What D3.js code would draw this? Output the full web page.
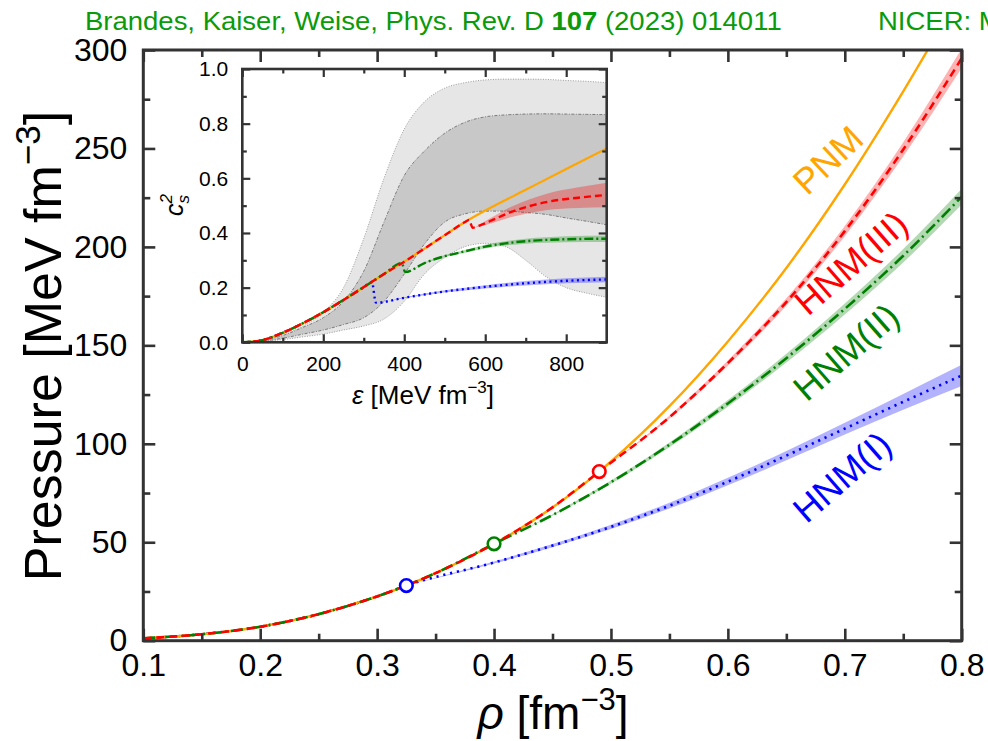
<!DOCTYPE html>
<html>
<head>
<meta charset="utf-8">
<script src="https://cdn.jsdelivr.net/npm/d3@7"></script>
<style>
  body { margin: 0; background: #fff; }
  svg { display: block; }
  text { font-family: "Liberation Sans", Arial, Helvetica, sans-serif; }
</style>
</head>
<body>
<svg id="chart" width="988" height="741"></svg>
<script>
// ---------- main panel: pressure vs. baryon density ----------
const rhoTicks = [0.1, 0.2, 0.3, 0.4, 0.5, 0.6, 0.7, 0.8];
const rhoMinor = [0.15, 0.25, 0.35, 0.45, 0.55, 0.65, 0.75];
const pTicks = [0, 50, 100, 150, 200, 250, 300];
const pMinor = [25, 75, 125, 175, 225, 275];

// pure neutron matter (PNM)
const pnmRho = [0.10, 0.15, 0.20, 0.25, 0.30, 0.325, 0.35, 0.40, 0.45, 0.49, 0.50, 0.55, 0.60, 0.65, 0.70, 0.75, 0.80];
const pnmP   = [1.2, 3.3, 7.1, 13.5, 22.5, 28.0, 34.3, 49.2, 67.7, 85.9, 91.0, 119.1, 152.0, 189.3, 231.7, 279.0, 330.0];

// hyperon-nuclear matter, three scenarios (from the hyperon onset on)
const hnm1Rho = [0.325, 0.40, 0.45, 0.50, 0.55, 0.60, 0.65, 0.70, 0.75, 0.80];
const hnm1P   = [28.0, 39.7, 48.3, 57.8, 68.6, 80.8, 94.0, 107.7, 121.3, 134.7];
const hnm1Err = [0, 0.5, 0.8, 1.1, 1.5, 1.9, 2.4, 3.0, 4.0, 5.4];

const hnm2Rho = [0.40, 0.45, 0.50, 0.55, 0.60, 0.65, 0.70, 0.75, 0.80];
const hnm2P   = [49.2, 63.8, 80.5, 99.5, 120.5, 143.5, 168.5, 195.5, 225.5];
const hnm2Err = [0, 0.4, 0.8, 1.2, 1.7, 2.2, 2.8, 3.4, 4.0];

const hnm3Rho = [0.49, 0.55, 0.60, 0.65, 0.70, 0.75, 0.80];
const hnm3P   = [85.9, 113.5, 141.0, 172.0, 208.0, 249.5, 295.8];
const hnm3Err = [0, 0.8, 1.3, 1.9, 2.6, 3.6, 5.0];

// hyperon onset densities
const onsetRho = [0.325, 0.40, 0.49];
const onsetP   = [28.0, 49.2, 85.9];

// ---------- inset: squared sound speed vs. energy density ----------
const epsTicks = [0, 200, 400, 600, 800];
const epsMinor = [100, 300, 500, 700];
const csTicks = [0.0, 0.2, 0.4, 0.6, 0.8, 1.0];
const csMinor = [0.1, 0.3, 0.5, 0.7, 0.9];

const pnmEps = [0, 50, 100, 150, 200, 250, 300, 350, 400, 450, 500, 550, 600, 700, 800, 900];
const pnmCs  = [0, 0.008, 0.035, 0.07, 0.11, 0.155, 0.202, 0.25, 0.295, 0.343, 0.392, 0.44, 0.482, 0.558, 0.634, 0.709];

const hnm1Eps = [320, 330, 400, 500, 600, 700, 800, 900];
const hnm1Cs  = [0.221, 0.145, 0.163, 0.186, 0.203, 0.216, 0.225, 0.230];
const hnm1CsErr = [0, 0, 0.002, 0.004, 0.006, 0.008, 0.009, 0.010];

const hnm2Eps = [394, 402, 450, 500, 550, 600, 650, 700, 800, 900];
const hnm2Cs  = [0.290, 0.257, 0.290, 0.315, 0.333, 0.350, 0.362, 0.370, 0.377, 0.379];
const hnm2CsErr = [0, 0, 0.002, 0.004, 0.005, 0.007, 0.008, 0.009, 0.011, 0.012];

const hnm3Eps = [560, 569, 590, 670, 750, 830, 900];
const hnm3Cs  = [0.448, 0.419, 0.430, 0.480, 0.513, 0.529, 0.539];
const hnm3CsErr = [0, 0, 0.005, 0.020, 0.030, 0.038, 0.045];

// neutron-star inference bands (68% dark, 95% light)
const bandEps = [0, 50, 100, 150, 200, 250, 300, 350, 400, 450, 500, 550, 600, 650, 700, 750, 800, 850, 900];
const band95Hi = [0, 0.01, 0.03, 0.06, 0.11, 0.20, 0.38, 0.60, 0.78, 0.88, 0.93, 0.95, 0.96, 0.963, 0.963, 0.962, 0.958, 0.955, 0.95];
const band95Lo = [0, 0.003, 0.01, 0.02, 0.03, 0.045, 0.06, 0.085, 0.15, 0.25, 0.31, 0.35, 0.362, 0.35, 0.30, 0.24, 0.20, 0.18, 0.165];
const band68Hi = [0, 0.008, 0.025, 0.055, 0.09, 0.15, 0.26, 0.44, 0.61, 0.70, 0.765, 0.805, 0.825, 0.832, 0.835, 0.836, 0.835, 0.834, 0.833];
const band68Lo = [0, 0.004, 0.015, 0.03, 0.045, 0.065, 0.09, 0.15, 0.25, 0.36, 0.44, 0.47, 0.48, 0.48, 0.475, 0.468, 0.455, 0.443, 0.43];

const seriesNames = ["PNM", "HNM(III)", "HNM(II)", "HNM(I)"];

// ---------- styling ----------
const C = { pnm: "#FFA500", h3: "#FF0000", h2: "#008000", h1: "#0000FF", frame: "#333333", title: "#0A9A0A" };
const dash = { h3: "8,5", h2: "12,4,2,4", h1: "2.2,4.8" };

const svg = d3.select("#chart");
const x = d3.scaleLinear().domain([0.1, 0.8]).range([143.3, 961.7]);
const y = d3.scaleLinear().domain([0, 300]).range([640.7, 50]);

const zip = (xs, ys) => xs.map((v, i) => [v, ys[i]]);
const zip3 = (xs, ys, es) => xs.map((v, i) => [v, ys[i], es[i]]);

// header line (slightly widened glyphs); the second entry runs past the right edge
const head = svg.append("text").attr("transform", "translate(85,29.5) scale(1.1,1)")
  .attr("font-size", 25).attr("fill", C.title);
head.append("tspan").text("Brandes, Kaiser, Weise, Phys. Rev. D ");
head.append("tspan").attr("font-weight", "bold").text("107");
head.append("tspan").text(" (2023) 014011");
svg.append("text").attr("transform", "translate(878,29.5) scale(1.1,1)").attr("font-size", 25)
  .attr("fill", C.title).text("NICER: M");

// clip for main plot
const defs = svg.append("defs");
defs.append("clipPath").attr("id", "mainClip").append("rect")
  .attr("x", 143.3).attr("y", 50).attr("width", 961.7 - 143.3).attr("height", 640.7 - 50);

const plot = svg.append("g").attr("clip-path", "url(#mainClip)");

function pathOnPnm(rhos, Ps) {
  // PNM branch up to the onset, then the hyperonic branch
  const start = rhos[0];
  const pts = zip(pnmRho, pnmP).filter(d => d[0] < start - 1e-9);
  return pts.concat(zip(rhos, Ps));
}

const lineMain = d3.line().x(d => x(d[0])).y(d => y(d[1])).curve(d3.curveMonotoneX);
const areaMain = d3.area().x(d => x(d[0])).y0(d => y(d[1] - d[2])).y1(d => y(d[1] + d[2])).curve(d3.curveMonotoneX);

// uncertainty bands
plot.append("path").datum(zip3(hnm1Rho, hnm1P, hnm1Err)).attr("d", areaMain).attr("fill", C.h1).attr("fill-opacity", 0.3);
plot.append("path").datum(zip3(hnm2Rho, hnm2P, hnm2Err)).attr("d", areaMain).attr("fill", C.h2).attr("fill-opacity", 0.3);
plot.append("path").datum(zip3(hnm3Rho, hnm3P, hnm3Err)).attr("d", areaMain).attr("fill", C.h3).attr("fill-opacity", 0.3);

// curves
plot.append("path").datum(pathOnPnm(hnm1Rho, hnm1P)).attr("d", lineMain).attr("fill", "none")
  .attr("stroke", C.h1).attr("stroke-width", 2.6).attr("stroke-dasharray", dash.h1).attr("stroke-linecap", "butt");
plot.append("path").datum(zip(pnmRho, pnmP)).attr("d", lineMain).attr("fill", "none")
  .attr("stroke", C.pnm).attr("stroke-width", 2.4);
plot.append("path").datum(pathOnPnm(hnm2Rho, hnm2P)).attr("d", lineMain).attr("fill", "none")
  .attr("stroke", C.h2).attr("stroke-width", 2.6).attr("stroke-dasharray", dash.h2);
plot.append("path").datum(pathOnPnm(hnm3Rho, hnm3P)).attr("d", lineMain).attr("fill", "none")
  .attr("stroke", C.h3).attr("stroke-width", 2.6).attr("stroke-dasharray", dash.h3);

// onset markers
const onsetColors = [C.h1, C.h2, C.h3];
svg.append("g").selectAll("circle").data(zip(onsetRho, onsetP)).join("circle")
  .attr("cx", d => x(d[0])).attr("cy", d => y(d[1])).attr("r", 6.3)
  .attr("fill", "#fff").attr("stroke", (d, i) => onsetColors[i]).attr("stroke-width", 2.6);

// curve labels
const labels = [
  { t: seriesNames[0], c: C.pnm, x: 828, y: 160, a: -43 },
  { t: seriesNames[1], c: C.h3, x: 851, y: 263, a: -41 },
  { t: seriesNames[2], c: C.h2, x: 846, y: 352, a: -41 },
  { t: seriesNames[3], c: C.h1, x: 842, y: 477, a: -41 }
];
svg.append("g").selectAll("text").data(labels).join("text")
  .attr("transform", d => `translate(${d.x},${d.y}) rotate(${d.a})`)
  .attr("text-anchor", "middle").attr("dominant-baseline", "central")
  .attr("font-size", 36).attr("fill", d => d.c).text(d => d.t);

// ---------- axes with inward ticks on all four sides ----------
function inwardAxes(g, xs, ys, xMaj, xMin, yMaj, yMin, majLen, minLen, fmtX, fmtY, fs, padX, padY, sw) {
  const [x0, x1] = xs.range(), [y0, y1] = ys.range();
  g.append("g").attr("transform", `translate(0,${y0})`)
    .call(d3.axisBottom(xs).tickValues(xMaj).tickSize(-majLen).tickPadding(padX).tickFormat(fmtX));
  g.append("g").attr("transform", `translate(0,${y0})`)
    .call(d3.axisBottom(xs).tickValues(xMin).tickSize(-minLen).tickFormat(""));
  g.append("g").attr("transform", `translate(0,${y1})`)
    .call(d3.axisTop(xs).tickValues(xMaj).tickSize(-majLen).tickFormat(""));
  g.append("g").attr("transform", `translate(0,${y1})`)
    .call(d3.axisTop(xs).tickValues(xMin).tickSize(-minLen).tickFormat(""));
  g.append("g").attr("transform", `translate(${x0},0)`)
    .call(d3.axisLeft(ys).tickValues(yMaj).tickSize(-majLen).tickPadding(padY).tickFormat(fmtY));
  g.append("g").attr("transform", `translate(${x0},0)`)
    .call(d3.axisLeft(ys).tickValues(yMin).tickSize(-minLen).tickFormat(""));
  g.append("g").attr("transform", `translate(${x1},0)`)
    .call(d3.axisRight(ys).tickValues(yMaj).tickSize(-majLen).tickFormat(""));
  g.append("g").attr("transform", `translate(${x1},0)`)
    .call(d3.axisRight(ys).tickValues(yMin).tickSize(-minLen).tickFormat(""));
  g.selectAll(".domain").remove();
  g.selectAll(".tick line").attr("stroke", C.frame).attr("stroke-width", sw);
  g.selectAll(".tick text").attr("fill", "#000").attr("font-size", fs)
    .attr("font-family", '"Liberation Sans", Arial, sans-serif');
  g.append("rect").attr("x", x0).attr("y", y1).attr("width", x1 - x0).attr("height", y0 - y1)
    .attr("fill", "none").attr("stroke", C.frame).attr("stroke-width", sw + 0.4);
}

const mainAxes = svg.append("g");
inwardAxes(mainAxes, x, y, rhoTicks, rhoMinor, pTicks, pMinor, 12, 7,
  d3.format(".1f"), d3.format("d"), 32, 13, 16, 2.6);

// axis titles
const xt = svg.append("text").attr("x", 553).attr("y", 729).attr("text-anchor", "middle").attr("font-size", 46);
xt.append("tspan").attr("font-style", "italic").text("ρ");
xt.append("tspan").text(" [fm");
xt.append("tspan").attr("font-size", 31).attr("dy", -19).text("−3");
xt.append("tspan").attr("dy", 19).text("]");

const yt = svg.append("text").attr("transform", "translate(61,346) rotate(-90)")
  .attr("text-anchor", "middle").attr("font-size", 52);
yt.append("tspan").text("Pressure [MeV fm");
yt.append("tspan").attr("font-size", 35).attr("dy", -21).text("−3");
yt.append("tspan").attr("dy", 21).text("]");

// ---------- inset ----------
const xi = d3.scaleLinear().domain([0, 900]).range([242.3, 606.7]);
const yi = d3.scaleLinear().domain([0, 1]).range([342.3, 69]);

svg.append("rect").attr("x", 242.3).attr("y", 69).attr("width", 606.7 - 242.3).attr("height", 342.3 - 69).attr("fill", "#fff");
defs.append("clipPath").attr("id", "insetClip").append("rect")
  .attr("x", 242.3).attr("y", 69).attr("width", 606.7 - 242.3).attr("height", 342.3 - 69);
const inset = svg.append("g").attr("clip-path", "url(#insetClip)");

const areaBand = d3.area().x(d => xi(d[0])).y0(d => yi(d[1])).y1(d => yi(d[2])).curve(d3.curveMonotoneX);
const lineInset = d3.line().x(d => xi(d[0])).y(d => yi(d[1])).curve(d3.curveMonotoneX);
const areaInset = d3.area().x(d => xi(d[0])).y0(d => yi(d[1] - d[2])).y1(d => yi(d[1] + d[2])).curve(d3.curveMonotoneX);

const b95 = bandEps.map((e, i) => [e, band95Lo[i], band95Hi[i]]);
const b68 = bandEps.map((e, i) => [e, band68Lo[i], band68Hi[i]]);
inset.append("path").datum(b95).attr("d", areaBand).attr("fill", "#e6e6e6");
inset.append("path").datum(b68).attr("d", areaBand).attr("fill", "#c8c8c8");
[band95Lo, band95Hi].forEach(arr => {
  inset.append("path").datum(zip(bandEps, arr)).attr("d", lineInset).attr("fill", "none")
    .attr("stroke", "#9a9a9a").attr("stroke-width", 1).attr("stroke-dasharray", "1,1.5");
});
[band68Lo, band68Hi].forEach(arr => {
  inset.append("path").datum(zip(bandEps, arr)).attr("d", lineInset).attr("fill", "none")
    .attr("stroke", "#7a7a7a").attr("stroke-width", 1).attr("stroke-dasharray", "3,1.5,1,1.5");
});

inset.append("path").datum(zip3(hnm1Eps, hnm1Cs, hnm1CsErr)).attr("d", areaInset).attr("fill", C.h1).attr("fill-opacity", 0.3);
inset.append("path").datum(zip3(hnm2Eps, hnm2Cs, hnm2CsErr)).attr("d", areaInset).attr("fill", C.h2).attr("fill-opacity", 0.3);
inset.append("path").datum(zip3(hnm3Eps, hnm3Cs, hnm3CsErr)).attr("d", areaInset).attr("fill", C.h3).attr("fill-opacity", 0.3);

function insetOnPnm(es, cs) {
  const start = es[0];
  return zip(pnmEps, pnmCs).filter(d => d[0] < start - 1e-9).concat(zip(es, cs));
}
inset.append("path").datum(insetOnPnm(hnm1Eps, hnm1Cs)).attr("d", lineInset).attr("fill", "none")
  .attr("stroke", C.h1).attr("stroke-width", 2.4).attr("stroke-dasharray", "2,3.5");
inset.append("path").datum(zip(pnmEps, pnmCs)).attr("d", lineInset).attr("fill", "none")
  .attr("stroke", C.pnm).attr("stroke-width", 2.2);
inset.append("path").datum(insetOnPnm(hnm2Eps, hnm2Cs)).attr("d", lineInset).attr("fill", "none")
  .attr("stroke", C.h2).attr("stroke-width", 2.4).attr("stroke-dasharray", "9,3,2,3");
inset.append("path").datum(insetOnPnm(hnm3Eps, hnm3Cs)).attr("d", lineInset).attr("fill", "none")
  .attr("stroke", C.h3).attr("stroke-width", 2.4).attr("stroke-dasharray", "7,4");

const insetAxes = svg.append("g");
inwardAxes(insetAxes, xi, yi, epsTicks, epsMinor, csTicks, csMinor, 8, 4.5,
  d3.format("d"), d3.format(".1f"), 21, 14, 14, 2.2);

const ixt = svg.append("text").attr("x", 423).attr("y", 404).attr("text-anchor", "middle").attr("font-size", 26);
ixt.append("tspan").attr("font-style", "italic").text("ε");
ixt.append("tspan").text(" [MeV fm");
ixt.append("tspan").attr("font-size", 17).attr("dy", -11).text("−3");
ixt.append("tspan").attr("dy", 11).text("]");

const iyt = svg.append("text").attr("transform", "translate(183,205) rotate(-90)")
  .attr("text-anchor", "middle").attr("font-size", 25);
iyt.append("tspan").attr("font-style", "italic").text("c");
iyt.append("tspan").attr("font-size", 17).attr("font-style", "italic").attr("dy", -11).text("2");
iyt.append("tspan").attr("font-size", 17).attr("font-style", "italic").attr("dx", -9.5).attr("dy", 17).text("s");
</script>
</body>
</html>
